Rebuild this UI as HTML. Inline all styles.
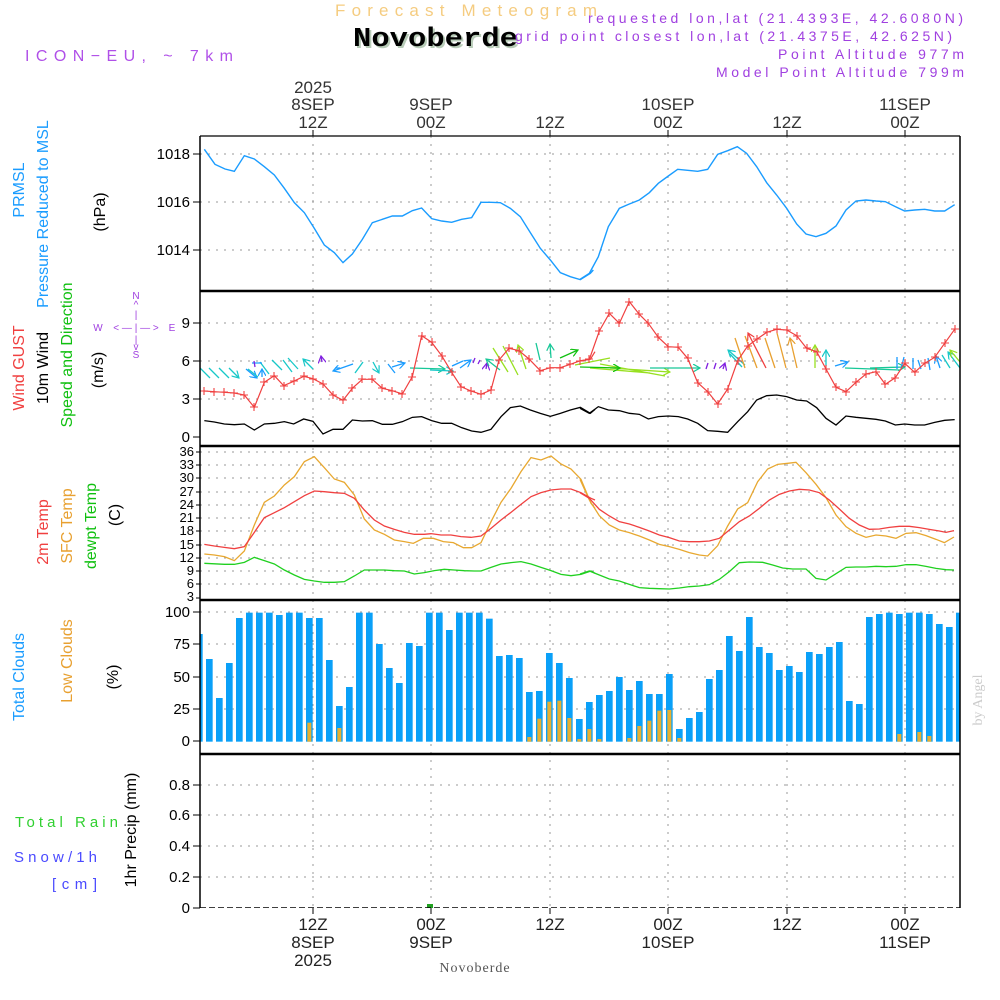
<!DOCTYPE html>
<html><head><meta charset="utf-8"><style>
html,body{margin:0;padding:0;background:#fff;}
svg{display:block;font-family:"Liberation Sans",sans-serif;}
</style></head><body>
<svg width="1000" height="1000" viewBox="0 0 1000 1000" xmlns="http://www.w3.org/2000/svg">
<defs>
<clipPath id="pc"><rect x="200" y="136" width="760" height="772"/></clipPath>
<marker id="mc" markerWidth="8" markerHeight="8" refX="7" refY="4" orient="auto" markerUnits="userSpaceOnUse"><path d="M0,0 L7,4 L0,8" fill="none" stroke="#18c8c8" stroke-width="1.2"/></marker>
<marker id="mb" markerWidth="8" markerHeight="8" refX="7" refY="4" orient="auto" markerUnits="userSpaceOnUse"><path d="M0,0 L7,4 L0,8" fill="none" stroke="#1a9cff" stroke-width="1.2"/></marker>
<marker id="mp" markerWidth="8" markerHeight="8" refX="7" refY="4" orient="auto" markerUnits="userSpaceOnUse"><path d="M0,0 L7,4 L0,8" fill="none" stroke="#8020e0" stroke-width="1.2"/></marker>
<marker id="mg" markerWidth="8" markerHeight="8" refX="7" refY="4" orient="auto" markerUnits="userSpaceOnUse"><path d="M0,0 L7,4 L0,8" fill="none" stroke="#10c010" stroke-width="1.2"/></marker>
<marker id="ml" markerWidth="8" markerHeight="8" refX="7" refY="4" orient="auto" markerUnits="userSpaceOnUse"><path d="M0,0 L7,4 L0,8" fill="none" stroke="#98e020" stroke-width="1.2"/></marker>
<marker id="mt" markerWidth="8" markerHeight="8" refX="7" refY="4" orient="auto" markerUnits="userSpaceOnUse"><path d="M0,0 L7,4 L0,8" fill="none" stroke="#18c898" stroke-width="1.2"/></marker>
<marker id="mo" markerWidth="8" markerHeight="8" refX="7" refY="4" orient="auto" markerUnits="userSpaceOnUse"><path d="M0,0 L7,4 L0,8" fill="none" stroke="#e8a030" stroke-width="1.2"/></marker>
<marker id="mr" markerWidth="8" markerHeight="8" refX="7" refY="4" orient="auto" markerUnits="userSpaceOnUse"><path d="M0,0 L7,4 L0,8" fill="none" stroke="#f04040" stroke-width="1.2"/></marker>
</defs>

<!-- Header -->
<text x="335" y="16" font-size="17" fill="#f5cc80" textLength="262" lengthAdjust="spacing">Forecast Meteogram</text>
<text x="355" y="48" font-size="27" font-weight="bold" fill="#b8ccb8" font-family="Liberation Mono,monospace" textLength="165" lengthAdjust="spacingAndGlyphs">Novoberde</text>
<text x="353" y="46" font-size="27" font-weight="bold" fill="#000" font-family="Liberation Mono,monospace" textLength="165" lengthAdjust="spacingAndGlyphs">Novoberde</text>
<text x="25" y="61" font-size="16" fill="#b050e8" textLength="208" lengthAdjust="spacing">ICON−EU, ~ 7km</text>
<g font-size="14" fill="#a040e0">
<text x="588" y="23" textLength="375" lengthAdjust="spacing">requested lon,lat (21.4393E, 42.6080N)</text>
<text x="515" y="41" textLength="437" lengthAdjust="spacing">grid point closest lon,lat (21.4375E, 42.625N)</text>
<text x="778" y="59" textLength="186" lengthAdjust="spacing">Point Altitude 977m</text>
<text x="716" y="77" textLength="248" lengthAdjust="spacing">Model Point Altitude 799m</text>
</g>

<!-- top time labels -->
<g font-size="17" fill="#333" text-anchor="middle">
<text x="313" y="93">2025</text><text x="313" y="110">8SEP</text><text x="313" y="128">12Z</text>
<text x="431" y="110">9SEP</text><text x="431" y="128">00Z</text>
<text x="550" y="128">12Z</text>
<text x="668" y="110">10SEP</text><text x="668" y="128">00Z</text>
<text x="787" y="128">12Z</text>
<text x="905" y="110">11SEP</text><text x="905" y="128">00Z</text>
</g>
<!-- bottom time labels -->
<g font-size="17" fill="#222" text-anchor="middle">
<text x="313" y="930">12Z</text><text x="313" y="948">8SEP</text><text x="313" y="966">2025</text>
<text x="431" y="930">00Z</text><text x="431" y="948">9SEP</text>
<text x="550" y="930">12Z</text>
<text x="668" y="930">00Z</text><text x="668" y="948">10SEP</text>
<text x="787" y="930">12Z</text>
<text x="905" y="930">00Z</text><text x="905" y="948">11SEP</text>
</g>
<text x="475" y="972" font-size="14" fill="#555" text-anchor="middle" font-family="Liberation Serif,serif" letter-spacing="1">Novoberde</text>

<!-- grid -->
<g stroke="#999" stroke-width="1" stroke-dasharray="2,6">
<path d="M313,136V908M431,136V908M550,136V908M668,136V908M787,136V908M905,136V908"/>
<path d="M200,154H960M200,202H960M200,250H960"/>
<path d="M200,323H960M200,361H960M200,399H960"/>
<path d="M200,452H960M200,465H960M200,478H960M200,492H960M200,505H960M200,518H960M200,531H960M200,545H960M200,558H960M200,571H960M200,584H960"/>
<path d="M200,612H960M200,644H960M200,677H960M200,709H960"/>
<path d="M200,785H960M200,815H960M200,846H960M200,877H960"/>
</g>

<!-- ticks & labels -->
<g stroke="#000" stroke-width="1">
<path d="M193,154H200M193,202H200M193,250H200M193,323H200M193,361H200M193,399H200M193,437H200"/>
<path d="M196,452H200M196,465H200M196,478H200M196,492H200M196,505H200M196,518H200M196,531H200M196,545H200M196,558H200M196,571H200M196,584H200M196,598H200"/>
<path d="M193,612H200M193,644H200M193,677H200M193,709H200M193,741H200M193,785H200M193,815H200M193,846H200M193,877H200M193,908H200"/>
<path d="M313,130V136M431,130V136M550,130V136M668,130V136M787,130V136M905,130V136"/>
<path d="M313,908V914M431,908V914M550,908V914M668,908V914M787,908V914M905,908V914"/>
</g>
<g font-size="15" fill="#000" text-anchor="end">
<text x="190" y="159">1018</text><text x="190" y="207">1016</text><text x="190" y="255">1014</text>
<text x="190" y="328">9</text><text x="190" y="366">6</text><text x="190" y="404">3</text><text x="190" y="442">0</text>
</g>
<g font-size="13" fill="#000" text-anchor="end">
<text x="194" y="456">36</text><text x="194" y="469">33</text><text x="194" y="482">30</text><text x="194" y="496">27</text><text x="194" y="509">24</text><text x="194" y="522">21</text><text x="194" y="535">18</text><text x="194" y="549">15</text><text x="194" y="562">12</text><text x="194" y="575">9</text><text x="194" y="588">6</text><text x="194" y="601">3</text>
</g>
<g font-size="15" fill="#000" text-anchor="end">
<text x="190" y="617">100</text><text x="190" y="649">75</text><text x="190" y="682">50</text><text x="190" y="714">25</text><text x="190" y="746">0</text>
<text x="190" y="790">0.8</text><text x="190" y="820">0.6</text><text x="190" y="851">0.4</text><text x="190" y="882">0.2</text><text x="190" y="913">0</text>
</g>

<!-- left labels -->
<g font-size="16" text-anchor="middle">
<text transform="translate(24,190) rotate(-90)" fill="#1a9cff">PRMSL</text>
<text transform="translate(48,214) rotate(-90)" fill="#1a9cff">Pressure Reduced to MSL</text>
<text transform="translate(105,212) rotate(-90)" fill="#000">(hPa)</text>
<text transform="translate(24,368) rotate(-90)" fill="#f04040">Wind GUST</text>
<text transform="translate(48,368) rotate(-90)" fill="#000">10m Wind</text>
<text transform="translate(72,355) rotate(-90)" fill="#10c010">Speed and Direction</text>
<text transform="translate(103,370) rotate(-90)" fill="#000">(m/s)</text>
<text transform="translate(48,532) rotate(-90)" fill="#f04040">2m Temp</text>
<text transform="translate(72,526) rotate(-90)" fill="#e8a030">SFC Temp</text>
<text transform="translate(96,526) rotate(-90)" fill="#10c010">dewpt Temp</text>
<text transform="translate(120,515) rotate(-90)" fill="#000">(C)</text>
<text transform="translate(24,677) rotate(-90)" fill="#1a9cff">Total Clouds</text>
<text transform="translate(72,661) rotate(-90)" fill="#e8a030">Low Clouds</text>
<text transform="translate(118,677) rotate(-90)" fill="#000">(%)</text>
<text transform="translate(136,830) rotate(-90)" fill="#000">1hr Precip (mm)</text>
</g>
<g font-size="15">
<text x="15" y="827" fill="#30d030" textLength="103" lengthAdjust="spacing">Total  Rain</text>
<text x="14" y="862" fill="#4a4aff" textLength="83" lengthAdjust="spacing">Snow/1h</text>
<text x="52" y="889" fill="#4a4aff" textLength="45" lengthAdjust="spacing">[cm]</text>
</g>
<!-- compass -->
<g font-size="10" fill="#a040e0" text-anchor="middle">
<text x="136" y="299">N</text><text x="136" y="308">^</text><text x="136" y="318">|</text>
<text x="98" y="331">W</text><text x="136" y="331">&lt; — | — &gt;</text><text x="172" y="331">E</text>
<text x="136" y="343">|</text><text x="136" y="350">v</text><text x="136" y="358">S</text>
</g>
<text transform="translate(982,700) rotate(-90)" font-size="14" fill="#ccc" text-anchor="middle" font-family="Liberation Serif,serif">by Angel</text>

<g clip-path="url(#pc)">
<!-- clouds bars -->
<g transform="translate(195,445) scale(0.33333)" fill="#0aa0f8">
<rect x="3" y="567" width="20" height="323"/><rect x="33" y="642" width="20" height="248"/><rect x="63" y="759" width="20" height="131"/><rect x="93" y="654" width="20" height="236"/><rect x="123" y="519" width="20" height="371"/><rect x="153" y="503" width="20" height="387"/><rect x="183" y="503" width="20" height="387"/><rect x="213" y="503" width="20" height="387"/><rect x="243" y="510" width="20" height="380"/><rect x="273" y="503" width="20" height="387"/>
<rect x="303" y="503" width="20" height="387"/><rect x="333" y="519" width="20" height="371"/><rect x="363" y="519" width="20" height="371"/><rect x="393" y="645" width="20" height="245"/><rect x="423" y="783" width="20" height="107"/><rect x="453" y="726" width="20" height="164"/><rect x="483" y="503" width="20" height="387"/><rect x="513" y="503" width="20" height="387"/><rect x="543" y="597" width="20" height="293"/><rect x="573" y="669" width="20" height="221"/>
<rect x="603" y="714" width="20" height="176"/><rect x="633" y="594" width="20" height="296"/><rect x="663" y="603" width="20" height="287"/><rect x="693" y="503" width="20" height="387"/><rect x="723" y="503" width="20" height="387"/><rect x="753" y="555" width="20" height="335"/><rect x="783" y="503" width="20" height="387"/><rect x="813" y="503" width="20" height="387"/><rect x="843" y="503" width="20" height="387"/><rect x="873" y="521" width="20" height="369"/>
<rect x="903" y="633" width="20" height="257"/><rect x="933" y="630" width="20" height="260"/><rect x="963" y="639" width="20" height="251"/><rect x="993" y="741" width="20" height="149"/><rect x="1023" y="738" width="20" height="152"/><rect x="1053" y="624" width="20" height="266"/><rect x="1083" y="654" width="20" height="236"/><rect x="1113" y="699" width="20" height="191"/><rect x="1143" y="822" width="20" height="68"/><rect x="1173" y="771" width="20" height="119"/>
<rect x="1203" y="750" width="20" height="140"/><rect x="1233" y="738" width="20" height="152"/><rect x="1263" y="696" width="20" height="194"/><rect x="1293" y="735" width="20" height="155"/><rect x="1323" y="708" width="20" height="182"/><rect x="1353" y="747" width="20" height="143"/><rect x="1383" y="747" width="20" height="143"/><rect x="1413" y="687" width="20" height="203"/><rect x="1443" y="852" width="20" height="38"/><rect x="1473" y="819" width="20" height="71"/>
<rect x="1503" y="801" width="20" height="89"/><rect x="1533" y="702" width="20" height="188"/><rect x="1563" y="675" width="20" height="215"/><rect x="1593" y="573" width="20" height="317"/><rect x="1623" y="618" width="20" height="272"/><rect x="1653" y="516" width="20" height="374"/><rect x="1683" y="606" width="20" height="284"/><rect x="1713" y="624" width="20" height="266"/><rect x="1743" y="675" width="20" height="215"/><rect x="1773" y="663" width="20" height="227"/>
<rect x="1803" y="681" width="20" height="209"/><rect x="1833" y="621" width="20" height="269"/><rect x="1863" y="627" width="20" height="263"/><rect x="1893" y="606" width="20" height="284"/><rect x="1923" y="591" width="20" height="299"/><rect x="1953" y="768" width="20" height="122"/><rect x="1983" y="777" width="20" height="113"/><rect x="2013" y="516" width="20" height="374"/><rect x="2043" y="507" width="20" height="383"/><rect x="2073" y="503" width="20" height="387"/>
<rect x="2103" y="507" width="20" height="383"/><rect x="2133" y="503" width="20" height="387"/><rect x="2163" y="503" width="20" height="387"/><rect x="2193" y="507" width="20" height="383"/><rect x="2223" y="537" width="20" height="353"/><rect x="2253" y="546" width="20" height="344"/><rect x="2283" y="503" width="20" height="387"/>
</g>
<g transform="translate(195,445) scale(0.33333)" fill="#e8b030">
<rect x="337" y="833" width="12" height="57"/><rect x="427" y="849" width="12" height="41"/><rect x="997" y="876" width="12" height="14"/><rect x="1027" y="821" width="12" height="69"/><rect x="1057" y="770" width="12" height="120"/><rect x="1087" y="767" width="12" height="123"/><rect x="1117" y="819" width="12" height="71"/><rect x="1147" y="882" width="12" height="8"/><rect x="1177" y="852" width="12" height="38"/><rect x="1207" y="882" width="12" height="8"/><rect x="1297" y="879" width="12" height="11"/><rect x="1327" y="843" width="12" height="47"/><rect x="1357" y="827" width="12" height="63"/><rect x="1387" y="797" width="12" height="93"/><rect x="1417" y="795" width="12" height="95"/><rect x="1447" y="879" width="12" height="11"/><rect x="2107" y="867" width="12" height="23"/><rect x="2167" y="861" width="12" height="29"/><rect x="2197" y="873" width="12" height="17"/>
</g>

<!-- pressure -->
<g fill="none" stroke="#1a9cff" stroke-width="1.4">
<polyline transform="translate(195,130) scale(0.33333)" vector-effect="non-scaling-stroke" points="28,58 60,103 90,117 118,124 148,77 178,87 208,110 238,135 268,175 298,218 328,248 358,295 388,345 418,368 444,398 472,372 502,328 532,278 562,268 592,258 622,258 652,242 680,234 710,266 740,273 770,277 800,268 830,263 858,217 888,217 916,218 946,235 976,260 1006,308 1036,355 1066,390 1096,428 1126,440 1156,449 1186,430 1195,420"/>
<polyline transform="translate(580,130) scale(0.33333)" vector-effect="non-scaling-stroke" points="0,448 28,430 55,380 85,290 118,235 148,222 178,210 208,188 235,160 265,138 293,118 323,121 353,124 383,118 413,73 443,62 472,50 500,70 530,110 560,158 590,195 620,235 650,282 678,312 708,320 738,310 768,288 798,240 828,213 858,210 888,213 916,215 946,230 974,243 1004,240 1034,238 1064,243 1094,243 1124,224"/>
</g>

<!-- wind speed black -->
<g fill="none" stroke="#000" stroke-width="1.3">
<polyline transform="translate(195,130) scale(0.33333)" vector-effect="non-scaling-stroke" points="28,872 58,876 88,882 118,884 148,882 178,900 208,882 238,880 268,875 296,882 326,867 354,874 384,912 414,898 444,898 472,870 502,873 532,872 562,883 592,883 622,875 652,862 680,860 710,872 740,880 770,880 800,893 830,903 858,907 888,898 918,860 946,833 976,828 1006,840 1036,850 1066,859 1096,850 1126,840 1156,832 1186,850 1200,838"/>
<polyline transform="translate(580,130) scale(0.33333)" vector-effect="non-scaling-stroke" points="0,835 28,850 55,830 85,840 118,842 148,850 178,853 205,867 235,860 265,858 295,860 323,867 353,880 383,902 413,904 443,907 473,875 503,845 530,810 560,797 590,795 620,800 650,810 680,813 710,833 738,865 768,885 798,858 828,862 858,865 888,868 916,873 946,885 974,882 1004,885 1034,885 1064,877 1094,871 1124,869"/>
</g>

<!-- wind arrows -->
<g fill="none" stroke-width="1.3">
<path d="M200,368L210,378M209,368L219,378M219,368L229,378M229,368L239,378" stroke="#18c8c8" marker-end="url(#mc)"/>
<path d="M246,369L257,378" stroke="#1a9cff" marker-end="url(#mb)"/>
<path d="M258,377L248,369M269,374L260,362M282,370L272,360M292,372L283,360M298,369L288,358M313,369L303,359" stroke="#18c8c8" marker-end="url(#mc)"/>
<path d="M252,363L262,363M262,377L262,369" stroke="#1a9cff" marker-end="url(#mb)"/>
<path d="M255,367L254,361M322,362L321,356" stroke="#8020e0" marker-end="url(#mp)"/>
<path d="M340,368L335,368M353,364L333,371" stroke="#1a9cff" marker-end="url(#mb)"/>
<path d="M363,362L355,373M373,362L379,373" stroke="#18c8c8" marker-end="url(#mc)"/>
<path d="M388,364L395,373M392,367L405,363" stroke="#1a9cff" marker-end="url(#mb)"/>
<path d="M410,368L445,369" stroke="#18c898" marker-end="url(#mt)"/>
<path d="M430,370L453,371" stroke="#18c8c8" marker-end="url(#mc)"/>
<path d="M452,366L463,361M460,368L471,360" stroke="#1a9cff" marker-end="url(#mb)"/>
<path d="M473,363L475,358M478,364L480,360M486,369L487,363" stroke="#8020e0" marker-end="url(#mp)"/>
<path d="M500,370L486,359" stroke="#18c898" marker-end="url(#mt)"/>
<path d="M508,372L493,348M518,375L503,346M526,369L518,345" stroke="#98e020" marker-end="url(#ml)"/>
<path d="M540,360L536,343M551,358L550,344" stroke="#18c898" marker-end="url(#mt)"/>
<path d="M560,358L578,350" stroke="#10c010" marker-end="url(#mg)"/>
<path d="M575,365L610,358M590,368L650,373M600,364L665,376M610,368L670,372" stroke="#98e020" marker-end="url(#ml)"/>
<path d="M580,367L620,368" stroke="#10c010" marker-end="url(#mg)"/>
<path d="M650,368L700,368" stroke="#18c898" marker-end="url(#mt)"/>
<path d="M706,369L708,363M714,369L716,363M723,369L725,363" stroke="#8020e0" marker-end="url(#mp)"/>
<path d="M742,367L730,354M745,365L728,350" stroke="#18c8c8" marker-end="url(#mc)"/>
<path d="M745,368L735,338M757,368L745,336M775,368L765,338M786,368L777,333M797,368L790,338" stroke="#e8a030" marker-end="url(#mo)"/>
<path d="M766,368L748,333" stroke="#f04040" marker-end="url(#mr)"/>
<path d="M815,368L815,345" stroke="#98e020" marker-end="url(#ml)"/>
<path d="M826,366L826,350" stroke="#18c8c8" marker-end="url(#mc)"/>
<path d="M835,366L848,362" stroke="#1a9cff" marker-end="url(#mb)"/>
<path d="M845,368L900,370M870,368L905,367" stroke="#18c898" marker-end="url(#mt)"/>
<path d="M897,369L897,357M901,369L904,357M913,369L913,358M921,369L918,360M930,370L928,358M940,368L936,356" stroke="#1a9cff" marker-end="url(#mb)"/>
<path d="M950,368L942,355M960,368L948,352" stroke="#18c8c8" marker-end="url(#mc)"/>
<path d="M960,362L950,350" stroke="#98e020" marker-end="url(#ml)"/>
</g>

<!-- gust red -->
<g fill="none" stroke="#f04040" stroke-width="1.2">
<polyline transform="translate(195,130) scale(0.33333)" vector-effect="non-scaling-stroke" points="28,783 58,785 88,787 118,789 148,795 178,832 208,757 238,737 266,767 296,754 326,739 354,746 384,762 414,795 444,811 472,775 502,748 532,748 562,775 592,782 622,792 652,740 680,617 710,637 740,677 770,727 798,770 828,783 858,793 888,780 912,690 942,655 972,662 1002,687 1036,722 1066,713 1096,713 1126,703 1156,692 1186,688 1200,665"/>
<polyline transform="translate(580,130) scale(0.33333)" vector-effect="non-scaling-stroke" points="0,693 28,688 58,603 88,550 118,580 148,515 178,553 205,580 235,622 265,650 295,652 323,685 353,758 383,785 413,822 443,777 473,692 503,648 530,628 560,607 590,598 620,600 650,617 680,655 710,665 738,717 768,772 798,785 828,757 858,732 888,725 916,763 946,743 974,700 1004,727 1034,700 1064,682 1094,640 1124,598"/>
</g>
<g stroke="#f04040" stroke-width="1.1" fill="none">
<path d="M204,391m-4,0h8m-4,-4v8 M214,392m-4,0h8m-4,-4v8 M224,392m-4,0h8m-4,-4v8 M234,393m-4,0h8m-4,-4v8 M244,395m-4,0h8m-4,-4v8 M254,407m-4,0h8m-4,-4v8 M264,382m-4,0h8m-4,-4v8 M274,376m-4,0h8m-4,-4v8 M284,386m-4,0h8m-4,-4v8 M294,381m-4,0h8m-4,-4v8 M304,376m-4,0h8m-4,-4v8 M313,379m-4,0h8m-4,-4v8 M323,384m-4,0h8m-4,-4v8 M333,395m-4,0h8m-4,-4v8 M343,400m-4,0h8m-4,-4v8 M352,388m-4,0h8m-4,-4v8 M362,379m-4,0h8m-4,-4v8 M372,379m-4,0h8m-4,-4v8 M382,388m-4,0h8m-4,-4v8 M392,391m-4,0h8m-4,-4v8 M402,394m-4,0h8m-4,-4v8 M412,377m-4,0h8m-4,-4v8 M422,336m-4,0h8m-4,-4v8 M432,342m-4,0h8m-4,-4v8 M442,356m-4,0h8m-4,-4v8 M452,372m-4,0h8m-4,-4v8 M461,387m-4,0h8m-4,-4v8 M471,391m-4,0h8m-4,-4v8 M481,394m-4,0h8m-4,-4v8 M491,390m-4,0h8m-4,-4v8 M499,360m-4,0h8m-4,-4v8 M509,348m-4,0h8m-4,-4v8 M519,351m-4,0h8m-4,-4v8 M529,359m-4,0h8m-4,-4v8 M540,371m-4,0h8m-4,-4v8 M550,368m-4,0h8m-4,-4v8 M560,368m-4,0h8m-4,-4v8 M570,364m-4,0h8m-4,-4v8 M580,361m-4,0h8m-4,-4v8 M589,359m-4,0h8m-4,-4v8 M599,331m-4,0h8m-4,-4v8 M609,313m-4,0h8m-4,-4v8 M619,323m-4,0h8m-4,-4v8 M629,302m-4,0h8m-4,-4v8 M639,314m-4,0h8m-4,-4v8 M648,323m-4,0h8m-4,-4v8 M658,337m-4,0h8m-4,-4v8 M668,347m-4,0h8m-4,-4v8 M678,347m-4,0h8m-4,-4v8 M688,358m-4,0h8m-4,-4v8 M698,383m-4,0h8m-4,-4v8 M708,392m-4,0h8m-4,-4v8 M718,404m-4,0h8m-4,-4v8 M728,389m-4,0h8m-4,-4v8 M738,361m-4,0h8m-4,-4v8 M748,346m-4,0h8m-4,-4v8 M757,339m-4,0h8m-4,-4v8 M767,332m-4,0h8m-4,-4v8 M777,329m-4,0h8m-4,-4v8 M787,330m-4,0h8m-4,-4v8 M797,336m-4,0h8m-4,-4v8 M807,348m-4,0h8m-4,-4v8 M817,352m-4,0h8m-4,-4v8 M826,369m-4,0h8m-4,-4v8 M836,387m-4,0h8m-4,-4v8 M846,392m-4,0h8m-4,-4v8 M856,382m-4,0h8m-4,-4v8 M866,374m-4,0h8m-4,-4v8 M876,372m-4,0h8m-4,-4v8 M885,384m-4,0h8m-4,-4v8 M895,378m-4,0h8m-4,-4v8 M905,363m-4,0h8m-4,-4v8 M915,372m-4,0h8m-4,-4v8 M925,363m-4,0h8m-4,-4v8 M935,357m-4,0h8m-4,-4v8 M945,343m-4,0h8m-4,-4v8 M955,329m-4,0h8m-4,-4v8"/>
</g>

<!-- temperatures -->
<g fill="none" stroke-width="1.3">
<polyline transform="translate(195,445) scale(0.33333)" vector-effect="non-scaling-stroke" stroke="#e8a830" points="28,327 58,330 88,335 118,347 148,318 178,240 208,172 238,153 268,120 298,95 328,50 358,35 388,68 418,102 448,112 478,150 508,222 538,255 568,268 598,285 628,290 655,295 685,280 715,280 745,290 775,293 805,308 830,308 858,293 888,230 918,172 948,130 978,80 1008,38 1038,45 1068,33 1098,57 1128,72 1158,103 1188,175 1200,190"/>
<polyline transform="translate(580,445) scale(0.33333)" vector-effect="non-scaling-stroke" stroke="#e8a830" points="0,103 28,165 58,212 88,240 118,255 148,263 178,273 208,285 238,298 268,305 298,313 328,323 358,330 383,333 413,302 443,243 473,192 503,173 533,110 563,72 593,58 623,55 648,52 678,83 708,118 738,158 768,210 798,245 828,265 858,277 888,270 918,273 948,280 978,265 1008,263 1038,272 1068,283 1093,293 1122,276"/>
<polyline transform="translate(195,445) scale(0.33333)" vector-effect="non-scaling-stroke" stroke="#f04040" points="28,298 58,303 88,307 118,311 148,305 178,262 208,218 238,203 268,188 298,170 328,152 358,138 388,140 418,143 448,145 478,160 508,195 538,225 568,243 598,253 628,262 658,268 688,268 708,266 738,270 768,270 798,275 828,277 858,273 888,250 918,225 948,202 978,178 1008,155 1038,143 1068,135 1098,132 1128,132 1158,143 1188,160 1200,165"/>
<polyline transform="translate(580,445) scale(0.33333)" vector-effect="non-scaling-stroke" stroke="#f04040" points="0,143 28,160 58,193 88,213 118,230 148,237 178,247 208,258 238,270 268,278 298,288 328,290 358,290 388,288 418,280 448,255 478,230 508,213 538,190 568,165 598,148 628,138 658,133 688,135 718,143 748,165 778,192 808,220 838,240 868,253 898,252 928,247 958,244 988,244 1018,248 1048,253 1078,258 1098,262 1122,257"/>
<polyline transform="translate(195,445) scale(0.33333)" vector-effect="non-scaling-stroke" stroke="#20d020" points="28,355 88,358 118,358 148,352 178,337 208,347 238,357 268,375 298,390 328,403 358,408 388,412 418,412 448,410 478,393 508,375 538,375 568,375 598,377 628,378 658,387 688,383 718,377 748,373 778,375 808,377 838,378 858,378 888,367 918,357 948,353 978,350 1008,357 1038,367 1068,377 1098,388 1128,392 1158,388 1188,378 1200,385"/>
<polyline transform="translate(580,445) scale(0.33333)" vector-effect="non-scaling-stroke" stroke="#20d020" points="0,387 28,378 58,390 88,402 118,408 148,418 178,428 208,430 238,431 268,432 298,429 328,425 358,423 388,419 418,403 448,380 478,353 508,351 548,352 578,360 608,369 638,372 678,372 708,400 738,405 768,386 798,367 828,366 858,366 888,364 918,365 948,364 978,359 1008,359 1038,364 1068,370 1098,374 1122,375"/>
</g>

<!-- precip -->
<rect x="427" y="904" width="6" height="4" fill="#20a020"/>
<path d="M200,908H960" stroke="#000" stroke-width="1.5" stroke-dasharray="6,3"/>
</g>

<!-- frames -->
<g stroke="#000" fill="none">
<path d="M200,136H960" stroke-width="1.2"/>
<path d="M200,136V908M960,136V908" stroke-width="1.5"/>
<path d="M200,291H960M200,446H960M200,600H960M200,754H960" stroke-width="2.5"/>
</g>
</svg>
</body></html>
